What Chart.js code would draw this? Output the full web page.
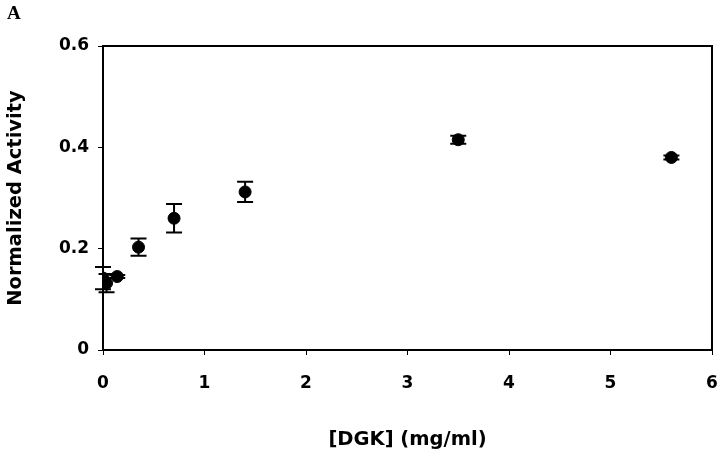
<!DOCTYPE html>
<html>
<head>
<meta charset="utf-8">
<script src="https://cdn.jsdelivr.net/npm/chart.js@4.4.1/dist/chart.umd.min.js"></script>
<style>
  body { margin: 0; background: #fff; }
  #wrap { position: relative; width: 720px; height: 456px; }
  #panel { position: absolute; left: 7px; top: 2px; font: bold 19px "Liberation Serif", "DejaVu Serif", serif; color: #000; }
</style>
</head>
<body>
<div id="wrap">
  <canvas id="chart" width="720" height="456"></canvas>
  <div id="panel">A</div>
</div>
<script>
// concentración de DGK (mg/ml) y actividad normalizada
const dgkConc = [0, 0.035, 0.14, 0.35, 0.7, 1.4, 3.5, 5.6];
const activity = [0.142, 0.132, 0.145, 0.203, 0.26, 0.312, 0.415, 0.38];
const activityErr = [0.022, 0.018, 0.003, 0.017, 0.028, 0.02, 0.008, 0.004];

const xTicks = [0, 1, 2, 3, 4, 5, 6];
const yTicks = [0, 0.2, 0.4, 0.6];

const tickFont = { family: "'DejaVu Sans', Arial, sans-serif", size: 17, weight: "bold" };
const titleFont = { family: "'DejaVu Sans', Arial, sans-serif", size: 19.5, weight: "bold" };

// barras de error + marco del área de la gráfica
const errorBars = {
    id: "errorBars",
    afterDatasetsDraw(chart) {
        const ctx = chart.ctx;
        const xs = chart.scales.x;
        const ys = chart.scales.y;
        ctx.save();
        ctx.strokeStyle = "#000";
        ctx.lineWidth = 2;
        for (let i = 0; i < dgkConc.length; i++) {
            const px = xs.getPixelForValue(dgkConc[i]);
            const top = ys.getPixelForValue(activity[i] + activityErr[i]);
            const bot = ys.getPixelForValue(activity[i] - activityErr[i]);
            ctx.beginPath();
            ctx.moveTo(px, top); ctx.lineTo(px, bot);
            ctx.moveTo(px - 8, top); ctx.lineTo(px + 8, top);
            ctx.moveTo(px - 8, bot); ctx.lineTo(px + 8, bot);
            ctx.stroke();
        }
        const a = chart.chartArea;
        ctx.lineWidth = 2;
        ctx.strokeRect(a.left, a.top, a.right - a.left, a.bottom - a.top);
        ctx.restore();
    }
};

new Chart(document.getElementById("chart"), {
    type: "scatter",
    data: {
        datasets: [{
            label: "Actividad",
            data: dgkConc.map((x, i) => ({ x: x, y: activity[i] })),
            backgroundColor: "#000",
            borderColor: "#000",
            pointRadius: 6,
            pointHoverRadius: 6
        }]
    },
    options: {
        responsive: false,
        animation: false,
        layout: { padding: { left: 0, right: 8, top: 46, bottom: 0 } },
        plugins: {
            legend: { display: false },
            tooltip: { enabled: false }
        },
        scales: {
            x: {
                type: "linear",
                min: 0,
                max: 6,
                afterBuildTicks: (s) => { s.ticks = xTicks.map(v => ({ value: v })); },
                afterFit: (s) => { s.height = 106; s.paddingRight = 0; s.paddingLeft = 0; },
                grid: { drawOnChartArea: false, tickLength: 5, color: "#000", lineWidth: 1 },
                border: { color: "#000", width: 2 },
                ticks: { color: "#000", font: tickFont, padding: 18, maxRotation: 0 },
                title: {
                    display: true,
                    text: "[DGK] (mg/ml)",
                    color: "#000",
                    font: titleFont,
                    padding: { top: 0, bottom: 4 }
                }
            },
            y: {
                min: 0,
                max: 0.6,
                afterBuildTicks: (s) => { s.ticks = yTicks.map(v => ({ value: v })); },
                afterFit: (s) => { s.width = 103; },
                grid: { drawOnChartArea: false, tickLength: 5, color: "#000", lineWidth: 1 },
                border: { color: "#000", width: 2 },
                ticks: { color: "#000", font: tickFont, padding: 9 },
                title: {
                    display: true,
                    text: "Normalized Activity",
                    color: "#000",
                    font: titleFont,
                    padding: { top: 4, bottom: 0 }
                }
            }
        }
    },
    plugins: [errorBars]
});
</script>
</body>
</html>
